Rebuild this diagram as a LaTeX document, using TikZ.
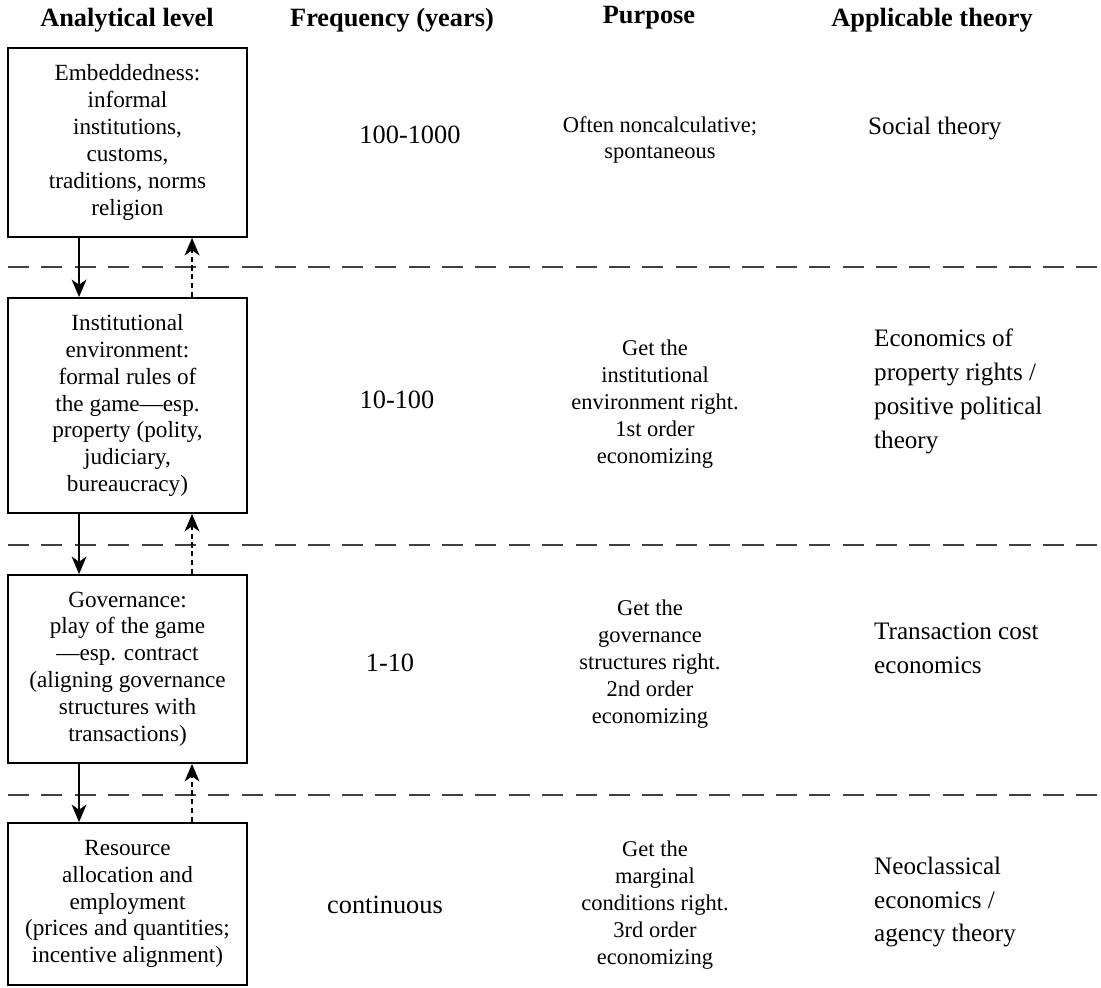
\documentclass[tikz,border=0pt]{standalone}
\usepackage{fontspec}
\setmainfont{Liberation Serif}
\usetikzlibrary{arrows.meta}

\tikzset{
  level/.style={draw, line width=1.1pt, inner sep=0pt, minimum width=4.78cm,
    align=center, font=\fontsize{13.2}{15.3}\selectfont},
  head/.style={font=\fontsize{15}{18}\selectfont\bfseries},
  freq/.style={font=\fontsize{15}{18}\selectfont},
  purp/.style={align=center, font=\fontsize{12.8}{15.3}\selectfont},
  theo/.style={align=left, anchor=west, font=\fontsize{14.3}{19.3}\selectfont},
  sep/.style={line width=1.1pt, dash pattern=on 12pt off 7pt, black!75},
  down/.style={-{Stealth[length=10pt,width=8.5pt,inset=3pt]}, line width=0.8pt},
  up/.style={-{Stealth[length=10pt,width=8.5pt,inset=3pt]}, line width=0.8pt, dash pattern=on 3pt off 2pt},
}

\begin{document}
\begin{tikzpicture}[x=0.02cm, y=-0.02cm]
  \useasboundingbox (0,0) rectangle (1101,987);

  % Column heads
  \node[head] (hlevel) at (127,20) {Analytical level};
  \node[head] (hfreq) at (392,20) {Frequency (years)};
  \node[head] (hpurp) at (649,18) {Purpose};
  \node[head] (htheo) at (932,20) {Applicable theory};

  % Levels
  \node[level, minimum height=3.78cm] (emb) at (127.5,142.5)
    {Embeddedness:\\informal\\institutions,\\customs,\\traditions, norms\\religion};
  \node[level, minimum height=4.3cm] (inst) at (127.5,405.5)
    {Institutional\\environment:\\formal rules of\\the game—esp.\\property (polity,\\judiciary,\\bureaucracy)};
  \node[level, minimum height=3.76cm] (gov) at (127.5,669)
    {Governance:\\play of the game\\—esp. contract\\(aligning governance\\structures with\\transactions)};
  \node[level, minimum height=3.24cm] (res) at (127.5,904)
    {Resource\\allocation and\\employment\\(prices and quantities;\\incentive alignment)};

  % Separators
  \foreach \y in {267, 545, 795}
    \draw[sep] (8,\y) -- (1101,\y);

  % Arrows between levels
  \foreach \a/\b in {emb/inst, inst/gov, gov/res} {
    \draw[down] ([xshift=1.44cm]\a.south west) -- ([xshift=1.44cm]\b.north west);
    \draw[up] ([xshift=3.7cm]\b.north west) -- ([xshift=3.7cm]\a.south west);
  }

  % Frequency
  \node[freq] (f1) at (410,135) {100-1000};
  \node[freq] (f2) at (397,400) {10-100};
  \node[freq] (f3) at (390,663) {1-10};
  \node[freq] (f4) at (385,905) {continuous};

  % Purpose
  \node[purp] (p1) at (660,140) {Often noncalculative;\\spontaneous};
  \node[purp] (p2) at (655,404) {Get the\\institutional\\environment right.\\1st order\\economizing};
  \node[purp] (p3) at (650,664) {Get the\\governance\\structures right.\\2nd order\\economizing};
  \node[purp] (p4) at (655,905) {Get the\\marginal\\conditions right.\\3rd order\\economizing};

  % Applicable theory
  \node[theo] (t1) at (862,128) {Social theory};
  \node[theo] (t2) at (868,391) {Economics of\\property rights /\\positive political\\theory};
  \node[theo] (t3) at (868,648) {Transaction cost\\economics};
  \node[theo] (t4) at (868,902) {Neoclassical\\economics /\\agency theory};
\end{tikzpicture}
\end{document}
